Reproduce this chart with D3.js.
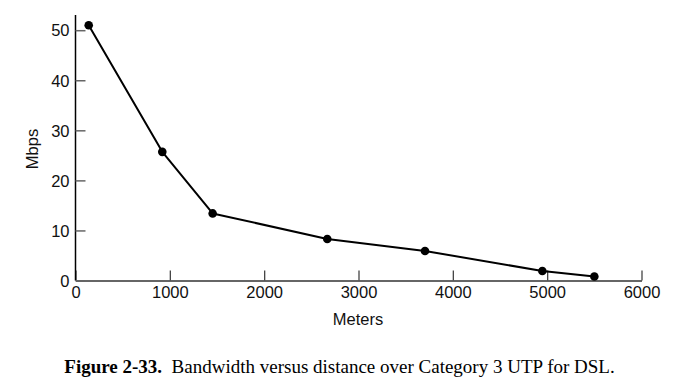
<!DOCTYPE html>
<html><head><meta charset="utf-8">
<script src="https://cdn.jsdelivr.net/npm/d3@7"></script>
<style>body{margin:0;background:#fff;}svg{display:block;}</style>
</head><body>
<script>
const meters = [140, 920, 1454, 2669, 3705, 4949, 5500];
const mbps = [51.0, 25.7, 13.4, 8.3, 5.9, 1.9, 0.8];
const xTicks = [0, 1000, 2000, 3000, 4000, 5000, 6000];
const yTicks = [0, 10, 20, 30, 40, 50];
const xTitle = "Meters";
const yTitle = "Mbps";
const captionBold = "Figure 2-33.";
const captionText = "Bandwidth versus distance over Category 3 UTP for DSL.";

const W = 684, H = 391;
const svg = d3.select("body").append("svg").attr("width", W).attr("height", H);
const x = d3.scaleLinear().domain([0, 6000]).range([75.5, 641.5]);
const y = d3.scaleLinear().domain([0, 50]).range([280.5, 30.2]);

const sans = "'Liberation Sans', Arial, Helvetica, sans-serif";
const fs = "16.5px";
// Axes
const xAxis = svg.append("g").attr("transform", `translate(0,${y(0)})`)
  .call(d3.axisBottom(x).tickValues(xTicks).tickSizeInner(-10).tickSizeOuter(0).tickFormat(d3.format("d")));
xAxis.select(".domain").attr("stroke", "#666").attr("stroke-width", 2);
xAxis.selectAll(".tick line").attr("stroke", "#444").attr("stroke-width", 1.3);
xAxis.selectAll(".tick text").attr("y", 6).attr("dy", "0.71em")
  .style("font-family", sans).style("font-size", fs).attr("fill", "#111");

const yAxis = svg.append("g").attr("transform", `translate(${x(0)},0)`)
  .call(d3.axisLeft(y).tickValues(yTicks).tickSizeInner(-10).tickSizeOuter(0).tickFormat(d3.format("d")));
yAxis.select(".domain").attr("d", `M0,${y(0)}V15`).attr("stroke", "#000").attr("stroke-width", 1.5);
yAxis.selectAll(".tick line").attr("stroke", "#666").attr("stroke-width", 1.5);
yAxis.selectAll(".tick text").attr("x", -6).attr("dy", "0.35em")
  .style("font-family", sans).style("font-size", fs).attr("fill", "#111");

// Titles
svg.append("text").attr("x", 358).attr("y", 319).attr("dy", "0.35em").attr("text-anchor", "middle")
  .style("font-family", sans).style("font-size", fs).attr("fill", "#111").text(xTitle);
svg.append("text").attr("transform", "translate(32,149) rotate(-90)").attr("dy", "0.35em").attr("text-anchor", "middle")
  .style("font-family", sans).style("font-size", fs).attr("fill", "#111").text(yTitle);

// Line + markers
const pts = meters.map((m, i) => [m, mbps[i]]);
svg.append("path").datum(pts)
  .attr("d", d3.line().x(d => x(d[0])).y(d => y(d[1])))
  .attr("fill", "none").attr("stroke", "#000").attr("stroke-width", 2).attr("stroke-linejoin", "round");
svg.selectAll("circle.pt").data(pts).enter().append("circle").attr("class", "pt")
  .attr("cx", d => x(d[0])).attr("cy", d => y(d[1])).attr("r", 4.3).attr("fill", "#000");

// Caption
const cap = svg.append("text").attr("x", 339.5).attr("y", 373).attr("text-anchor", "middle")
  .style("font-family", "'Liberation Serif', 'Times New Roman', serif").style("font-size", "19px").attr("fill", "#000");
cap.append("tspan").style("font-weight", "bold").text(captionBold);
cap.append("tspan").attr("xml:space", "preserve").text("\u00a0 " + captionText);
</script>
</body></html>
